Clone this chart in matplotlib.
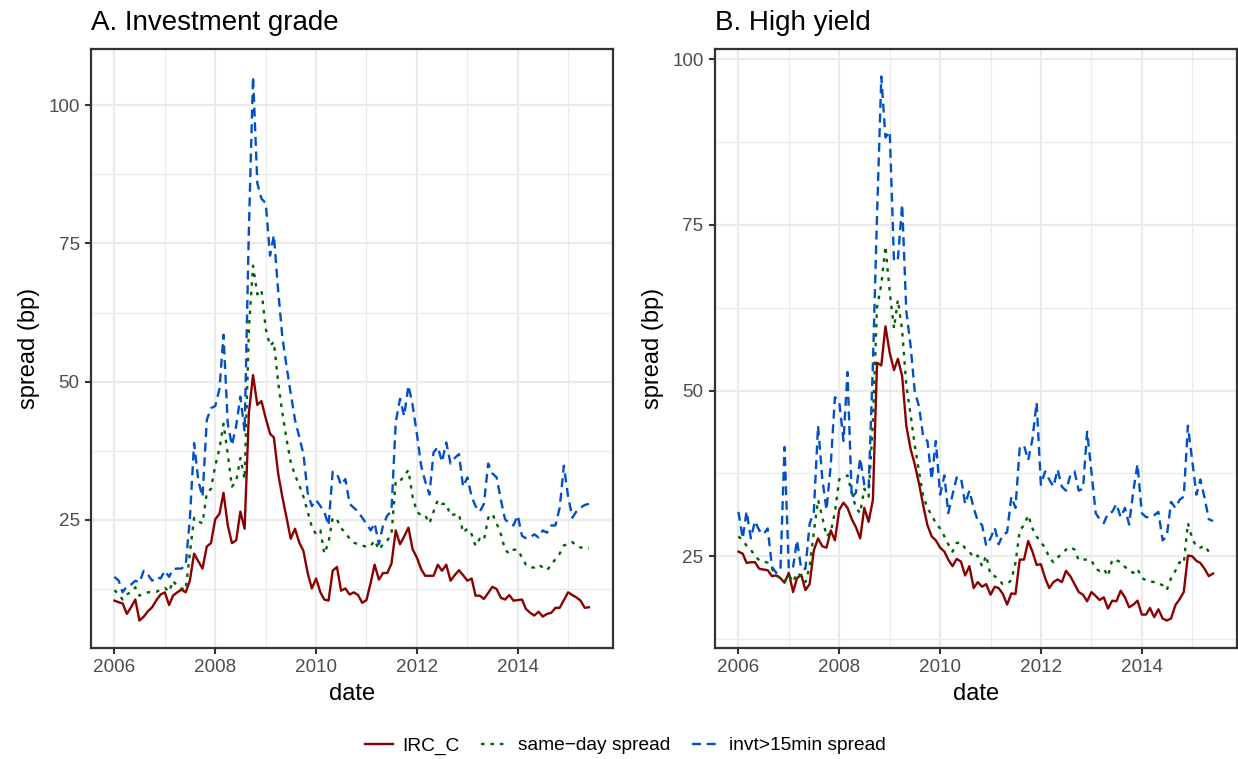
import matplotlib
matplotlib.use("Agg")
import matplotlib.pyplot as plt
import matplotlib.dates as mdates
import numpy as np
import pandas as pd

plt.rcParams['font.family'] = ['Liberation Sans', 'DejaVu Sans']

# monthly observations, Jan 2006 - Jun 2015
dates = pd.date_range('2006-01-01', periods=114, freq='MS')

# A. Investment grade
ig_irc = [10.4, 10.1, 9.9, 8.0, 9.2, 10.6, 6.8, 7.5, 8.5, 9.2, 10.5, 11.5, 11.9, 9.6, 11.3, 11.9, 12.4, 11.9, 14.0, 18.9,
          17.5, 16.2, 20.2, 20.8, 25.1, 26.1, 29.9, 24.0, 20.8, 21.3, 26.5, 23.4, 44.4, 51.2, 45.8, 46.5, 43.4, 40.6, 39.9, 33.4,
          29.2, 25.4, 21.6, 23.4, 20.9, 19.4, 15.4, 12.6, 14.4, 11.9, 10.6, 10.4, 15.8, 16.5, 12.2, 12.6, 11.5, 11.9, 11.4, 10.0,
          10.5, 13.7, 16.9, 14.2, 15.4, 15.4, 17.1, 23.1, 20.6, 22.0, 23.6, 19.7, 18.2, 16.1, 14.9, 14.9, 14.9, 16.9, 15.8, 16.9,
          14.0, 15.0, 15.9, 15.0, 14.0, 14.4, 11.3, 11.3, 10.7, 11.8, 12.9, 12.5, 10.9, 10.6, 11.4, 10.4, 10.5, 10.6, 8.9, 8.2,
          7.7, 8.4, 7.5, 8.0, 8.2, 9.1, 9.1, 10.5, 11.9, 11.4, 11.0, 10.4, 9.1, 9.2]
ig_same = [12.3, 11.5, 10.6, 11.5, 12.0, 12.8, 11.3, 11.6, 11.9, 12.0, 12.0, 12.4, 12.7, 12.0, 14.0, 13.0, 12.6, 12.3, 18.9, 25.4,
           24.7, 24.4, 29.9, 30.6, 34.8, 37.9, 42.4, 36.9, 31.0, 32.0, 36.2, 32.4, 59.6, 71.0, 65.8, 66.6, 59.6, 56.5, 57.2, 49.9,
           44.4, 39.6, 35.5, 33.1, 31.3, 29.2, 26.5, 23.7, 22.4, 23.1, 18.9, 20.9, 25.4, 25.1, 23.5, 22.7, 21.6, 20.9, 20.6, 20.4,
           20.1, 20.3, 21.3, 19.6, 20.6, 21.3, 22.4, 32.0, 32.0, 33.0, 34.0, 29.2, 26.5, 25.8, 25.8, 24.4, 26.5, 28.6, 27.9, 27.9,
           25.8, 26.0, 26.1, 22.7, 23.4, 22.4, 20.3, 21.6, 21.3, 25.4, 26.1, 24.4, 22.4, 19.6, 18.9, 19.6, 19.6, 18.2, 16.9, 16.4,
           16.4, 16.9, 16.4, 15.9, 16.9, 17.9, 18.9, 20.4, 20.6, 21.0, 20.3, 20.0, 20.0, 19.8]
ig_invt = [14.7, 14.0, 11.9, 13.0, 13.3, 14.0, 13.7, 15.8, 15.1, 14.0, 14.7, 14.4, 15.8, 14.7, 16.1, 16.2, 16.2, 16.8, 25.1, 38.9,
           32.0, 29.2, 43.1, 45.2, 45.6, 48.7, 58.5, 42.4, 38.5, 42.0, 47.3, 41.0, 77.6, 105.2, 85.9, 83.1, 82.3, 72.8, 76.5, 66.5,
           58.2, 52.7, 47.9, 43.1, 40.0, 36.9, 29.9, 27.5, 28.6, 27.5, 26.5, 24.0, 33.7, 33.4, 31.3, 32.4, 27.9, 27.2, 26.5, 25.4,
           24.3, 23.1, 24.4, 20.6, 24.0, 25.8, 26.6, 42.7, 46.9, 43.8, 49.3, 45.8, 40.6, 34.8, 32.0, 29.6, 37.2, 38.2, 35.5, 39.0,
           35.2, 36.2, 36.9, 31.0, 32.7, 29.2, 27.5, 26.5, 27.9, 35.2, 33.4, 32.7, 28.6, 25.1, 24.4, 24.0, 25.8, 22.1, 21.7, 21.8,
           22.4, 21.8, 23.1, 22.7, 24.0, 24.0, 27.2, 34.8, 29.2, 25.4, 26.5, 27.2, 27.7, 27.9]

# B. High yield
hy_irc = [25.7, 25.4, 24.0, 24.1, 24.1, 23.1, 23.0, 22.9, 22.0, 22.1, 21.7, 21.0, 22.5, 19.6, 21.7, 22.2, 19.9, 20.8, 25.9, 27.7,
          26.5, 26.3, 28.9, 27.4, 32.0, 33.1, 32.3, 30.6, 29.4, 27.7, 32.3, 30.2, 33.5, 54.2, 53.8, 59.7, 55.7, 53.1, 54.8, 52.2,
          44.7, 41.2, 38.9, 36.0, 32.6, 29.7, 28.0, 27.4, 26.3, 25.7, 24.5, 23.5, 24.6, 24.2, 22.1, 23.5, 20.2, 21.1, 20.4, 20.8,
          19.2, 20.4, 20.2, 19.3, 17.7, 19.4, 19.3, 24.5, 24.5, 27.3, 25.7, 23.7, 23.8, 21.7, 20.2, 21.1, 21.5, 21.1, 22.8, 22.0,
          20.8, 19.6, 19.2, 18.2, 19.6, 19.0, 18.4, 18.8, 17.1, 18.3, 18.2, 19.8, 18.8, 17.3, 17.7, 18.3, 16.2, 16.2, 17.2, 15.8,
          17.0, 15.6, 15.3, 15.6, 17.6, 18.5, 19.6, 25.1, 25.0, 24.3, 24.0, 23.1, 22.0, 22.4]
hy_same = [28.0, 27.4, 26.6, 26.0, 25.0, 24.4, 24.3, 24.0, 23.1, 22.2, 21.7, 21.2, 22.2, 21.1, 22.5, 22.0, 21.1, 23.4, 28.6, 33.5,
           30.9, 28.0, 28.6, 31.7, 36.6, 36.9, 37.2, 34.6, 32.3, 31.5, 35.2, 34.0, 45.3, 62.6, 66.0, 71.8, 64.9, 59.4, 63.7, 59.1,
           50.8, 46.4, 41.8, 37.8, 34.0, 32.3, 31.2, 30.0, 29.2, 28.0, 26.8, 25.7, 27.0, 27.1, 26.2, 25.7, 24.8, 25.1, 23.5, 25.1,
           22.2, 22.0, 21.4, 20.8, 20.8, 21.4, 24.0, 28.9, 29.7, 31.2, 29.2, 28.0, 27.1, 26.3, 24.8, 24.1, 24.8, 25.4, 26.0, 26.4,
           26.0, 24.4, 24.5, 24.5, 24.4, 23.1, 22.8, 23.1, 22.0, 24.5, 24.4, 24.1, 23.4, 22.8, 22.5, 23.1, 21.7, 21.4, 21.2, 21.1,
           21.0, 20.6, 19.9, 21.7, 22.8, 24.1, 23.9, 30.0, 27.7, 26.4, 26.3, 26.6, 25.7, 25.1]
hy_invt = [31.7, 27.7, 31.8, 27.7, 30.3, 28.9, 28.3, 29.2, 23.4, 22.5, 22.8, 41.5, 23.0, 23.4, 27.4, 23.1, 23.1, 29.9, 31.7, 44.7,
           36.6, 32.0, 38.9, 49.0, 48.4, 42.4, 52.8, 33.8, 34.6, 39.8, 35.8, 35.2, 53.9, 76.4, 97.4, 88.2, 89.1, 69.5, 69.8, 78.1,
           62.0, 56.8, 49.9, 47.6, 43.0, 42.4, 36.6, 42.4, 34.3, 37.2, 31.5, 34.3, 36.9, 36.9, 32.9, 34.9, 32.3, 30.3, 29.7, 26.6,
           27.7, 29.3, 26.8, 28.3, 28.6, 34.0, 32.3, 41.5, 41.7, 39.5, 42.7, 48.2, 35.8, 37.8, 36.6, 35.5, 38.1, 35.5, 34.9, 37.2,
           37.8, 34.9, 35.2, 43.8, 37.8, 31.5, 30.6, 30.0, 31.5, 31.7, 32.9, 30.9, 32.3, 29.8, 34.9, 38.9, 31.5, 30.9, 30.9, 31.2,
           31.7, 27.4, 28.0, 33.2, 32.3, 33.5, 34.0, 44.7, 39.5, 34.3, 36.6, 33.8, 30.6, 30.3]

labels = ['IRC_C', 'same\u2212day spread', 'invt>15min spread']
colors = ['#8B0000', '#006400', '#0050C8']
styles = ['-', (0, (1.5, 2.5)), (0, (3.8, 2.4))]

fig = plt.figure(figsize=(12.38, 7.59), dpi=100)
axA = fig.add_axes([0.0733, 0.1466, 0.4216, 0.7884])
axB = fig.add_axes([0.5773, 0.1466, 0.4217, 0.7884])

xd = mdates.date2num(dates)
xr = xd[-1] - xd[0]
major_years = [2006, 2008, 2010, 2012, 2014]
minor_years = [2007, 2009, 2011, 2013, 2015]

panels = [(axA, 'A. Investment grade', [ig_irc, ig_same, ig_invt]),
          (axB, 'B. High yield', [hy_irc, hy_same, hy_invt])]

for ax, title, series in panels:
    for s, lab, c, ls in zip(series, labels, colors, styles):
        ax.plot(dates, s, color=c, linestyle=ls, lw=1.7, label=lab)
    # ggplot-style 5% expansion
    allv = np.concatenate([np.array(s) for s in series])
    lo, hi = allv.min(), allv.max()
    ax.set_ylim(lo - 0.05 * (hi - lo), hi + 0.05 * (hi - lo))
    ax.set_xlim(xd[0] - 0.05 * xr, xd[-1] + 0.05 * xr)
    ax.set_yticks([25, 50, 75, 100])
    ax.set_yticks([12.5, 37.5, 62.5, 87.5], minor=True)
    ax.set_xticks([mdates.datestr2num('%d-01-01' % y) for y in major_years])
    ax.set_xticks([mdates.datestr2num('%d-01-01' % y) for y in minor_years], minor=True)
    ax.xaxis.set_major_formatter(mdates.DateFormatter('%Y'))
    ax.grid(which='major', color='#EBEBEB', lw=1.6)
    ax.grid(which='minor', color='#EBEBEB', lw=0.8)
    ax.set_axisbelow(True)
    ax.tick_params(which='major', length=4, width=1.5, color='#333333', labelsize=13.6,
                   labelcolor='#4D4D4D', pad=4)
    ax.tick_params(which='minor', length=0)
    for sp in ax.spines.values():
        sp.set_color('#333333')
        sp.set_linewidth(1.6)
    ax.set_xlabel('date', fontsize=17, labelpad=5)
    ax.set_ylabel('spread (bp)', fontsize=17, labelpad=6)
    ax.set_title(title, loc='left', fontsize=20, pad=14)

handles, labs = axA.get_legend_handles_labels()
fig.legend(handles, labs, loc='center', bbox_to_anchor=(0.5053, 0.0175), ncol=3, frameon=False,
           fontsize=13.8, handlelength=1.43, handletextpad=0.52, columnspacing=1.1)

fig.savefig('out.png', dpi=100)
